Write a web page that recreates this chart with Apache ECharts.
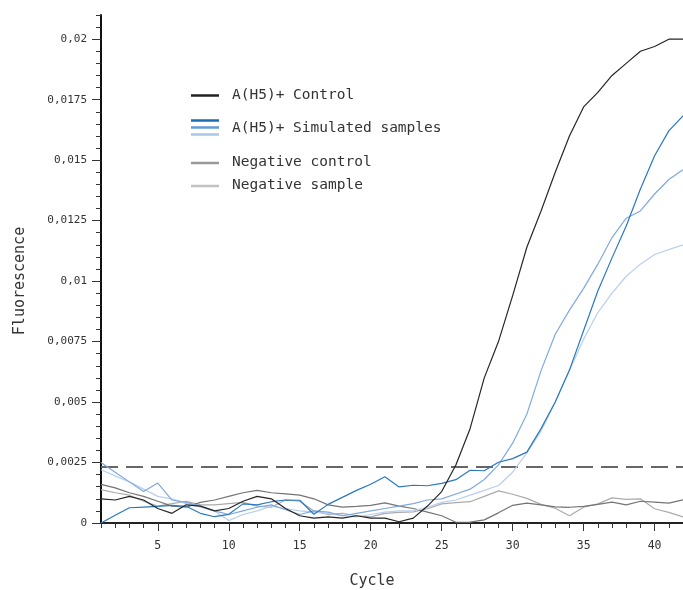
<!DOCTYPE html>
<html>
<head>
<meta charset="utf-8">
<script src="https://cdn.jsdelivr.net/npm/echarts@6/dist/echarts.min.js"></script>
<style>
html,body{margin:0;padding:0;background:#fff;}
#chart{width:683px;height:590px;}
</style>
</head>
<body>
<div id="chart"></div>
<script>
const cycles = [1,2,3,4,5,6,7,8,9,10,11,12,13,14,15,16,17,18,19,20,21,22,23,24,25,26,27,28,29,30,31,32,33,34,35,36,37,38,39,40,41,42];

const h5Control = [0.0010,0.00095,0.0011,0.00095,0.0006,0.0004,0.00075,0.0007,0.0005,0.0006,0.0009,0.0011,0.0010,0.0006,0.0003,0.0002,0.00025,0.0002,0.0003,0.0002,0.0002,0.00005,0.0002,0.0007,0.0013,0.0024,0.0039,0.0060,0.0075,0.0094,0.0114,0.0129,0.0145,0.0160,0.0172,0.0178,0.0185,0.0190,0.0195,0.0197,0.0200,0.0200];

const simDark = [0,0.00032,0.00063,0.00066,0.00069,0.00073,0.00069,0.0004,0.00026,0.00036,0.00079,0.00075,0.00088,0.00095,0.00094,0.00036,0.00077,0.00106,0.00135,0.0016,0.00191,0.00149,0.00156,0.00154,0.00164,0.00179,0.00218,0.00216,0.00251,0.00266,0.00293,0.0039,0.0050,0.00632,0.00796,0.00959,0.01096,0.01228,0.01381,0.01518,0.01621,0.01683];

const simMid = [0.0025,0.0021,0.0017,0.0013,0.00165,0.00095,0.00085,0.0007,0.0005,0.00035,0.0005,0.00065,0.00075,0.00055,0.00035,0.0005,0.00045,0.0003,0.0004,0.0005,0.0006,0.0007,0.0008,0.00095,0.0010,0.0012,0.0014,0.0018,0.0024,0.0033,0.0045,0.0063,0.0078,0.0088,0.0097,0.0107,0.0118,0.0126,0.0129,0.0136,0.0142,0.0146];

const simLight = [0.0022,0.00195,0.0017,0.0014,0.0011,0.0010,0.0008,0.00065,0.0005,0.0001,0.00035,0.0005,0.0007,0.0006,0.0005,0.00045,0.0004,0.0003,0.00025,0.00035,0.00045,0.0005,0.0005,0.00065,0.00085,0.00095,0.00115,0.00135,0.00155,0.0021,0.0029,0.0038,0.0050,0.0063,0.0076,0.0087,0.0095,0.0102,0.0107,0.0111,0.0113,0.0115];

const negControl = [0.0016,0.00145,0.00125,0.0011,0.0009,0.0007,0.00065,0.00085,0.00095,0.0011,0.00125,0.00135,0.00125,0.0012,0.00115,0.0010,0.00075,0.00066,0.00069,0.00073,0.00083,0.0007,0.0006,0.00045,0.0003,0.00003,0.00004,0.00013,0.00042,0.00073,0.00082,0.00075,0.00067,0.00065,0.00069,0.00077,0.00086,0.00075,0.0009,0.00086,0.00082,0.00096];

const negSample = [0.00138,0.00125,0.00115,0.0009,0.0007,0.0008,0.0009,0.00075,0.00075,0.0008,0.00085,0.0007,0.00065,0.00095,0.0009,0.0005,0.00035,0.0004,0.0003,0.00025,0.0004,0.00044,0.00046,0.00059,0.00079,0.00084,0.00088,0.0011,0.00133,0.00119,0.00102,0.00077,0.00061,0.0003,0.00065,0.00079,0.00104,0.00098,0.0010,0.00059,0.00044,0.00025];

const threshold = 0.00232;
const thresholdSpan = [1, 42];
const yTickValues = [0,0.0025,0.005,0.0075,0.01,0.0125,0.015,0.0175,0.02];
const xTickValues = [5,10,15,20,25,30,35,40];

const FONT = '"DejaVu Sans Mono", monospace';

function pairs(arr){ return cycles.map((c,i)=>[c, arr[i]]); }

function line(name, arr, color, width){
  return {
    name: name, type: 'line', data: pairs(arr),
    showSymbol: false, symbol: 'none', silent: true,
    lineStyle: { color: color, width: width },
    xAxisIndex: 0, yAxisIndex: 0, z: 3
  };
}

const chart = echarts.init(document.getElementById('chart'), null, {renderer:'canvas'});

const option = {
  animation: false,
  backgroundColor: '#ffffff',
  grid: { left: 101, right: 0, top: 15, bottom: 67, containLabel: false },
  xAxis: [
    {
      type: 'value', min: 1, max: 42, interval: 1, position: 'bottom',
      axisLine: { show: true, lineStyle: { color: '#222', width: 2 } },
      axisTick: { show: true, length: 5, lineStyle: { color: '#333', width: 1 } },
      axisLabel: { show: false },
      splitLine: { show: false }
    },
    {
      type: 'value', min: 1, max: 42, position: 'bottom', offset: 0,
      axisLine: { show: false },
      axisTick: { show: true, length: 8, customValues: xTickValues, lineStyle: { color: '#333', width: 1 } },
      axisLabel: { show: true, customValues: xTickValues, margin: 17, color: '#333', fontSize: 11.5, fontFamily: FONT },
      splitLine: { show: false }
    }
  ],
  yAxis: [
    {
      type: 'value', min: 0, max: 0.021, interval: 0.0005, position: 'left',
      axisLine: { show: true, lineStyle: { color: '#111', width: 2 } },
      axisTick: { show: true, length: 5, lineStyle: { color: '#333', width: 1 } },
      axisLabel: { show: false },
      splitLine: { show: false }
    },
    {
      type: 'value', min: 0, max: 0.021, position: 'left', offset: 0,
      axisLine: { show: false },
      axisTick: { show: true, length: 9, customValues: yTickValues, lineStyle: { color: '#333', width: 1 } },
      axisLabel: {
        show: true, customValues: yTickValues, margin: 14, color: '#333', fontSize: 11, fontFamily: FONT,
        formatter: function(v){ return String(v).replace('.', ','); }
      },
      splitLine: { show: false }
    }
  ],
  series: [
    {
      name: 'Threshold', type: 'line', silent: true, showSymbol: false, symbol: 'none',
      data: thresholdSpan.map(c => [c, threshold]),
      lineStyle: { color: '#666', width: 2, type: [17, 8] },
      xAxisIndex: 0, yAxisIndex: 0, z: 2
    },
    line('Negative sample', negSample, '#ababab', 1.2),
    line('Negative control', negControl, '#747474', 1.2),
    line('A(H5)+ Simulated samples 3', simLight, '#b9cff0', 1.2),
    line('A(H5)+ Simulated samples 2', simMid, '#7fa9de', 1.2),
    line('A(H5)+ Simulated samples 1', simDark, '#2a78c2', 1.2),
    line('A(H5)+ Control', h5Control, '#262626', 1.2)
  ],
  graphic: [
    { type: 'text', x: 20, y: 281, rotation: Math.PI/2,
      style: { text: 'Fluorescence', fill: '#333', font: '15px ' + FONT, align: 'center', verticalAlign: 'middle' } },
    { type: 'text', x: 372, y: 581,
      style: { text: 'Cycle', fill: '#333', font: '15px ' + FONT, align: 'center', verticalAlign: 'middle' } },

    { type: 'line', shape: { x1: 191, y1: 95.5, x2: 219, y2: 95.5 }, style: { stroke: '#222', lineWidth: 2.5 } },
    { type: 'text', x: 232, y: 95, style: { text: 'A(H5)+ Control', fill: '#333', font: '14.5px ' + FONT, verticalAlign: 'middle' } },

    { type: 'line', shape: { x1: 191, y1: 120.5, x2: 219, y2: 120.5 }, style: { stroke: '#1a6db3', lineWidth: 2.5 } },
    { type: 'line', shape: { x1: 191, y1: 127.5, x2: 219, y2: 127.5 }, style: { stroke: '#5f9bd6', lineWidth: 2.5 } },
    { type: 'line', shape: { x1: 191, y1: 134.5, x2: 219, y2: 134.5 }, style: { stroke: '#a8c7ea', lineWidth: 2.5 } },
    { type: 'text', x: 232, y: 128.5, style: { text: 'A(H5)+ Simulated samples', fill: '#333', font: '14.5px ' + FONT, verticalAlign: 'middle' } },

    { type: 'line', shape: { x1: 191, y1: 163, x2: 219, y2: 163 }, style: { stroke: '#999', lineWidth: 2.5 } },
    { type: 'text', x: 232, y: 162.5, style: { text: 'Negative control', fill: '#333', font: '14.5px ' + FONT, verticalAlign: 'middle' } },

    { type: 'line', shape: { x1: 191, y1: 186, x2: 219, y2: 186 }, style: { stroke: '#c2c2c2', lineWidth: 2.5 } },
    { type: 'text', x: 232, y: 185.5, style: { text: 'Negative sample', fill: '#333', font: '14.5px ' + FONT, verticalAlign: 'middle' } }
  ]
};

chart.setOption(option);
</script>
</body>
</html>
